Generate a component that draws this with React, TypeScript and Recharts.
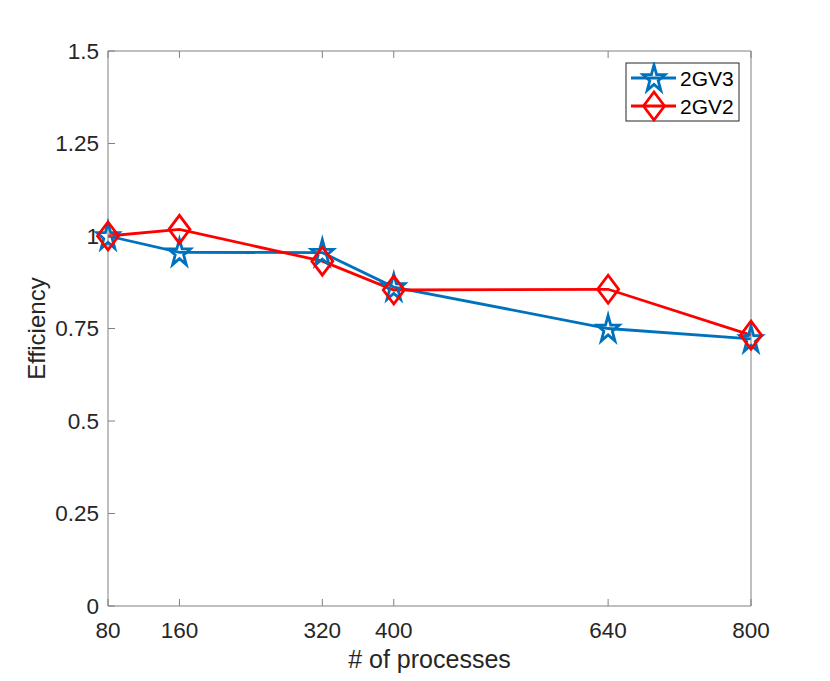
import { LineChart, Line, XAxis, YAxis } from 'recharts';

const processes = [80, 160, 320, 400, 640, 800];
const gv3 = [1.0, 0.956, 0.955, 0.862, 0.75, 0.722];
const gv2 = [1.0, 1.018, 0.932, 0.854, 0.856, 0.732];
const xTicks = [80, 160, 320, 400, 640, 800];
const yTicks = [0, 0.25, 0.5, 0.75, 1, 1.25, 1.5];
const seriesNames = ['2GV3', '2GV2'];

const BLUE = '#0072BD';
const RED = '#FF0000';
const AXIS = '#808080';
const TEXT = '#262626';
const FONT = '"Liberation Sans", Arial, Helvetica, sans-serif';

const data = processes.map((p, i) => ({ p, gv3: gv3[i], gv2: gv2[i] }));

function starPoints(cx: number, cy: number, r: number) {
  const pts: string[] = [];
  for (let k = 0; k < 10; k++) {
    const rad = k % 2 === 0 ? r : r * 0.382;
    const a = (Math.PI / 5) * k;
    pts.push(`${cx + rad * Math.sin(a) * 0.83},${cy - rad * Math.cos(a)}`);
  }
  return pts.join(' ');
}

function diamondPoints(cx: number, cy: number) {
  return `${cx},${cy - 14} ${cx + 10.5},${cy} ${cx},${cy + 14} ${cx - 10.5},${cy}`;
}

const StarDot = (props: any) => {
  const { cx, cy, index } = props;
  if (cx == null || cy == null) return null;
  return (
    <polygon key={`s${index}`} points={starPoints(cx, cy + 1, 14)} fill="none" stroke={BLUE} strokeWidth={2.8} />
  );
};

const DiamondDot = (props: any) => {
  const { cx, cy, index } = props;
  if (cx == null || cy == null) return null;
  return <polygon key={`d${index}`} points={diamondPoints(cx, cy)} fill="none" stroke={RED} strokeWidth={2.8} />;
};

const tickStyle = { fill: TEXT, fontSize: 22.5, fontFamily: FONT };
const blank = () => '';
const tickLineStyle = { stroke: AXIS };

function LegendBox() {
  return (
    <svg width={115} height={60} style={{ position: 'absolute', left: 625, top: 62 }}>
      <rect x={1} y={1} width={113} height={58} fill="#fff" stroke={TEXT} strokeWidth={1} />
      <line x1={6} x2={51} y1={16} y2={16} stroke={BLUE} strokeWidth={2.8} />
      <polygon points={starPoints(29, 17, 14)} fill="none" stroke={BLUE} strokeWidth={2.8} />
      <text x={55} y={24} fontSize={21} fontFamily={FONT} fill="#000">{seriesNames[0]}</text>
      <line x1={6} x2={51} y1={44} y2={44} stroke={RED} strokeWidth={2.8} />
      <polygon points={diamondPoints(29, 44)} fill="none" stroke={RED} strokeWidth={2.8} />
      <text x={55} y={52} fontSize={21} fontFamily={FONT} fill="#000">{seriesNames[1]}</text>
    </svg>
  );
}

export default function App() {
  return (
    <div style={{ position: 'absolute', left: 0, top: 0, width: 830, height: 681, background: '#fff' }}>
      <LineChart width={830} height={681} data={data} margin={{ top: 50, right: 78, bottom: 0, left: 0 }}>
        <XAxis
          dataKey="p"
          type="number"
          domain={[80, 800]}
          ticks={xTicks}
          height={75}
          stroke={AXIS}
          tickLine={tickLineStyle}
          tickSize={-7}
          tickMargin={23}
          tick={tickStyle}
          label={{ value: '# of processes', position: 'insideBottom', offset: 13, style: { fill: TEXT, fontSize: 25, fontFamily: FONT } }}
        />
        <XAxis xAxisId="t" dataKey="p" type="number" domain={[80, 800]} ticks={xTicks} orientation="top" height={1} tickFormatter={blank} tickLine={tickLineStyle} tickSize={-7} stroke={AXIS} />
        <YAxis
          type="number"
          domain={[0, 1.5]}
          ticks={yTicks}
          width={108}
          stroke={AXIS}
          tickLine={tickLineStyle}
          tickSize={-7}
          tickMargin={16}
          tick={tickStyle}
          label={{ value: 'Efficiency', angle: -90, position: 'insideLeft', offset: 36, style: { textAnchor: 'middle', fill: TEXT, fontSize: 24, fontFamily: FONT } }}
        />
        <YAxis yAxisId="r" type="number" domain={[0, 1.5]} ticks={yTicks} orientation="right" width={1} tickFormatter={blank} tickLine={tickLineStyle} tickSize={-7} stroke={AXIS} />
        <Line dataKey="gv3" name={seriesNames[0]} stroke={BLUE} strokeWidth={2.8} dot={<StarDot />} activeDot={false} isAnimationActive={false} />
        <Line dataKey="gv2" name={seriesNames[1]} stroke={RED} strokeWidth={2.8} dot={<DiamondDot />} activeDot={false} isAnimationActive={false} />
      </LineChart>
      <LegendBox />
    </div>
  );
}
